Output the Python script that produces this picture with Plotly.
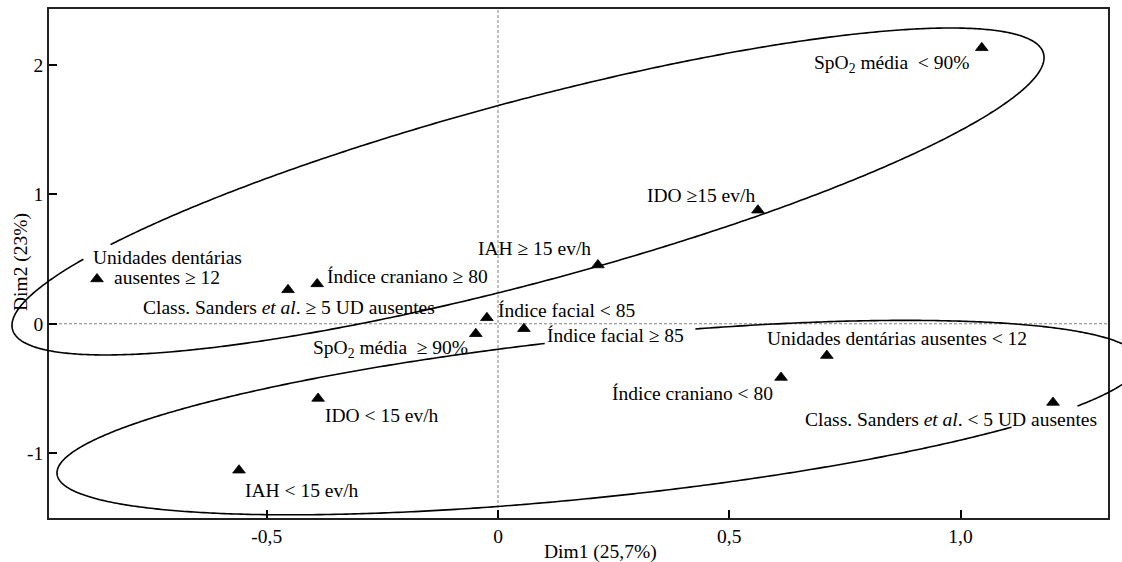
import numpy as np
import plotly.graph_objects as go

# ---------------- data ----------------
categories = [
    "Unidades dentárias<br>ausentes ≥ 12",
    "Class. Sanders <i>et al</i>. ≥ 5 UD ausentes",
    "Índice craniano ≥ 80",
    "IAH ≥ 15 ev/h",
    "IDO ≥15 ev/h",
    "SpO<sub>2</sub> média\u00a0 < 90%",
    "Índice facial < 85",
    "SpO<sub>2</sub> média\u00a0 ≥ 90%",
    "Índice facial ≥ 85",
    "Unidades dentárias ausentes < 12",
    "Índice craniano < 80",
    "Class. Sanders <i>et al</i>. < 5 UD ausentes",
    "IDO < 15 ev/h",
    "IAH < 15 ev/h",
]
dim1 = [-0.867, -0.454, -0.391, 0.216, 0.562, 1.046, -0.024, -0.048, 0.056,
        0.711, 0.612, 1.200, -0.389, -0.560]
dim2 = [0.346, 0.262, 0.308, 0.454, 0.877, 2.131, 0.046, -0.077, -0.038,
        -0.246, -0.415, -0.608, -0.577, -1.131]

x_tickvals = [-0.5, 0, 0.5, 1.0]
x_ticktext = ["-0,5", "0", "0,5", "1,0"]
y_tickvals = [-1, 0, 1, 2]
y_ticktext = ["-1", "0", "1", "2"]

x_title = "Dim1 (25,7%)"
y_title = "Dim2 (23%)"

# ---------------- layout / style ----------------
XR = [-0.9708, 1.3189]
YR = [-1.5, 2.4308]
FONT = "Liberation Serif, Times New Roman, serif"
FS = 19.5

# label offsets in pixels (xshift, yshift) relative to each point
label_shift = [
    (70, 11), (1, -18), (90, 7), (-63, 16), (-57, 15), (-90, -16), (80, 7),
    (-85, -15), (92, -7), (70, 17), (-89, -16), (-102, -17), (64, -17), (63, -20),
]

# ellipses: centre, conjugate semi-diameters (data units), gaps in parameter degrees
ellipses = [
    dict(c=(0.0649, 1.0215), u=(1.1157, 1.0338), v=(0.0, 0.7246), gaps=[(144, 149.5)]),
    dict(c=(0.2173, -0.7246), u=(1.1708, 0.4269), v=(0.0, 0.6177), gaps=[(80, 95.7), (320, 332)]),
]


def to_paper(x, y):
    return (x - XR[0]) / (XR[1] - XR[0]), (y - YR[0]) / (YR[1] - YR[0])


def ellipse_path(e):
    gaps = sorted(e["gaps"])
    start = gaps[0][1]
    end = gaps[0][0] + 360
    ts = np.arange(start, end + 1e-9, 0.5)

    def in_gap(t):
        tm = t % 360
        return any(g0 < tm < g1 for g0, g1 in gaps)

    segs, cur = [], []
    for t in ts:
        if in_gap(t):
            if len(cur) > 1:
                segs.append(cur)
            cur = []
            continue
        r = np.radians(t)
        x = e["c"][0] + e["u"][0] * np.cos(r) + e["v"][0] * np.sin(r)
        y = e["c"][1] + e["u"][1] * np.cos(r) + e["v"][1] * np.sin(r)
        cur.append(to_paper(x, y))
    if len(cur) > 1:
        segs.append(cur)
    path = ""
    for s in segs:
        path += "M{:.5f},{:.5f} ".format(*s[0])
        path += " ".join("L{:.5f},{:.5f}".format(px, py) for px, py in s[1:]) + " "
    return path.strip()


fig = go.Figure()
fig.add_trace(go.Scatter(
    x=dim1, y=dim2, mode="markers",
    marker=dict(symbol="triangle-up", size=11, color="black",
                line=dict(width=0.8, color="black")),
    hoverinfo="skip", showlegend=False, cliponaxis=False,
))

shapes = [
    dict(type="line", xref="x", yref="paper", x0=0, x1=0, y0=0, y1=1,
         line=dict(color="#808080", width=1, dash="3px,2px"), layer="below"),
    dict(type="line", xref="paper", yref="y", x0=0, x1=1, y0=0, y1=0,
         line=dict(color="#808080", width=1, dash="3px,2px"), layer="below"),
]
for e in ellipses:
    shapes.append(dict(type="path", xref="paper", yref="paper", path=ellipse_path(e),
                       line=dict(color="black", width=1.6), layer="above"))

annotations = []
for txt, x, y, (dx, dy) in zip(categories, dim1, dim2, label_shift):
    lines = txt.split("<br>")
    n = len(lines)
    for i, ln in enumerate(lines):
        annotations.append(dict(
            x=x, y=y, xref="x", yref="y", text=ln, showarrow=False,
            xanchor="center", yanchor="middle",
            xshift=dx, yshift=dy - (i - (n - 1) / 2) * 20,
            font=dict(family=FONT, size=FS, color="black"),
        ))

annotations.append(dict(x=0.5212, y=-0.0665, xref="paper", yref="paper", text=x_title,
                        showarrow=False, xanchor="center", yanchor="middle",
                        font=dict(family=FONT, size=FS, color="black")))
annotations.append(dict(x=-0.0264, y=0.503, xref="paper", yref="paper", text=y_title,
                        showarrow=False, xanchor="center", yanchor="middle", textangle=-90,
                        font=dict(family=FONT, size=FS, color="black")))

fig.update_layout(
    width=1122, height=562,
    margin=dict(l=49, r=14, t=7, b=44),
    paper_bgcolor="white", plot_bgcolor="white",
    font=dict(family=FONT, size=FS, color="black"),
    shapes=shapes, annotations=annotations,
    xaxis=dict(range=XR, tickvals=x_tickvals, ticktext=x_ticktext, ticks="inside",
               ticklen=8, tickwidth=1.5, tickcolor="black", showgrid=False, zeroline=False,
               showline=True, linecolor="#222", linewidth=1.5, mirror=True,
               tickfont=dict(family=FONT, size=FS, color="black")),
    yaxis=dict(range=YR, tickvals=y_tickvals, ticktext=y_ticktext, ticks="inside",
               ticklen=8, tickwidth=1.5, tickcolor="black", showgrid=False, zeroline=False,
               showline=True, linecolor="#222", linewidth=1.5, mirror=True,
               tickfont=dict(family=FONT, size=FS, color="black")),
)

fig.write_html(
    "out.html",
    config={"displayModeBar": False},
    post_script="document.body.style.margin='0';document.body.style.overflow='hidden';",
)
